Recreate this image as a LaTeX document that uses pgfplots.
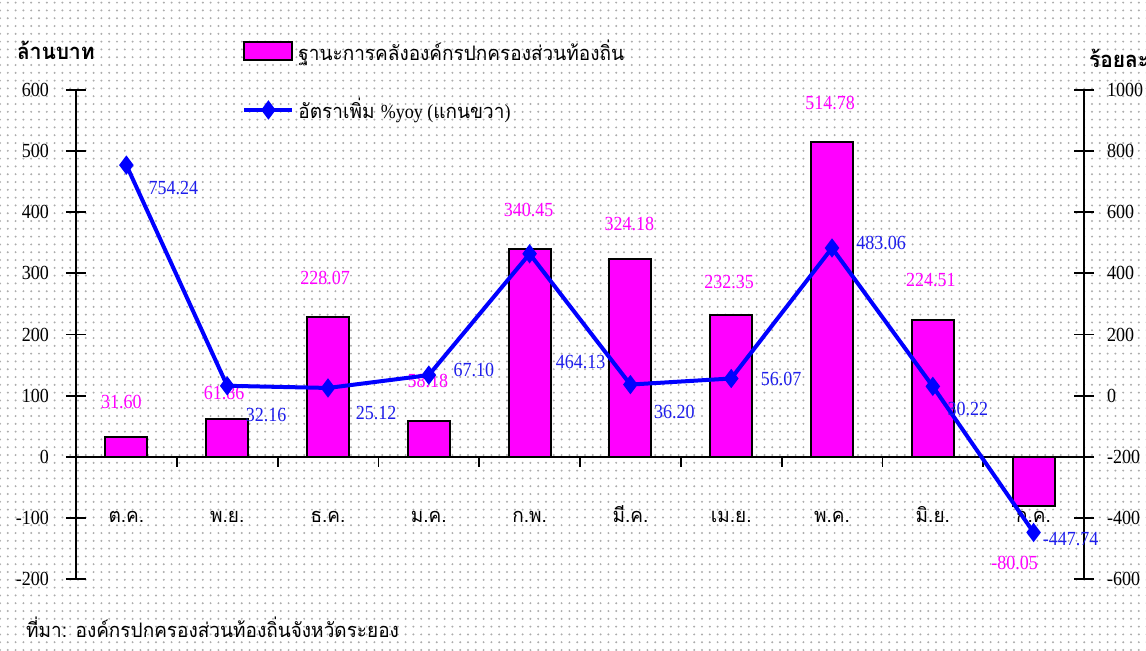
\documentclass[border=0pt]{standalone}
\usepackage{fontspec}
\usepackage{pgfplots}
\pgfplotsset{compat=1.18}
\usepackage{pgfplotstable}
\usetikzlibrary{patterns.meta}
\setmainfont{Liberation Serif}[FakeStretch=0.9]
\newfontfamily\thaifont[Script=Thai,FakeStretch=0.95]{Loma}
\definecolor{mag}{RGB}{255,0,255}
\definecolor{lblue}{RGB}{0,0,255}
\definecolor{tblue}{RGB}{30,30,235}

% x  bar  bdx bdy (pt)  line  ldx ldy (pt)
\pgfplotstableread{
x bar bdx bdy line ldx ldy
0 31.60 -2.5 17.5 754.24 23.5 -11.5
1 61.86 -1.5 13 32.16 19.5 -14.5
2 228.07 -1.5 19.5 25.12 24 -12.5
3 58.18 -0.5 20 67.10 22.5 2.5
4 340.45 -0.5 19.5 464.13 25.5 -54
5 324.18 -0.5 17.5 36.20 22 -13.5
6 232.35 -1 16.5 56.07 25 0
7 514.78 -1 19.5 483.06 24.5 2.5
8 224.51 -1 20 30.22 17.5 -11.5
9 -80.05 -9.5 -28.5 -447.74 18.5 -3.5
}\datatable

\begin{document}
\fontsize{10}{12}\selectfont
\begin{tikzpicture}[x=0.5pt,y=0.5pt]
\path[use as bounding box] (0,0) rectangle (1146,650);
\clip (0,0) rectangle (1146,650);
\fill[white] (0,0) rectangle (1146,650);
\fill[pattern={Dots[distance=3.9pt,radius=0.55pt]},pattern color=gray!65] (0,0) rectangle (1146,650);

\begin{axis}[
  at={(38pt,35.5pt)}, anchor=south west,
  scale only axis, width=504pt, height=244.5pt,
  xmin=-0.5, xmax=9.5, ymin=-200, ymax=600,
  axis y line*=left, axis x line*=middle,
  axis line style={black, line width=1pt},
  xtick={0,...,9},
  xticklabels={ต.ค.,พ.ย.,ธ.ค.,ม.ค.,ก.พ.,มี.ค.,เม.ย.,พ.ค.,มิ.ย.,ก.ค.},
  xticklabel style={font=\thaifont\fontsize{10}{12}\selectfont, anchor=base, yshift=-23pt},
  minor xtick={0.5,1.5,...,8.5},
  major x tick style={draw=none},
  xtick align=outside, minor tick length=5pt,
  ytick={-200,-100,...,600},
  ytick align=center, major tick length=10pt,
  tick style={black, line width=0.9pt},
  yticklabel style={font=\fontsize{10}{12}\selectfont, xshift=-5pt},
  /pgf/number format/assume math mode=true,
  /pgf/number format/set thousands separator={},
  clip=false,
]
\addplot[ybar, bar width=21pt, bar shift=0pt, fill=mag, draw=black, line width=1pt,
  point meta=explicit symbolic,
  nodes near coords,
  visualization depends on={\thisrow{bdx} \as \bdx},
  visualization depends on={\thisrow{bdy} \as \bdy},
  every node near coord/.append style={text=mag, anchor=center, xshift=\bdx*1pt, yshift=\bdy*1pt, font=\fontsize{10}{12}\selectfont},
] table[x=x, y=bar, meta=bar] {\datatable};
\end{axis}

\begin{axis}[
  at={(38pt,35.5pt)}, anchor=south west,
  scale only axis, width=504pt, height=244.5pt,
  xmin=-0.5, xmax=9.5, ymin=-600, ymax=1000,
  axis y line*=right, axis x line=none,
  axis line style={black, line width=1pt},
  ytick={-600,-400,...,1000},
  ytick align=center, major tick length=10pt,
  tick style={black, line width=0.9pt},
  yticklabel style={font=\fontsize{10}{12}\selectfont, xshift=3pt},
  /pgf/number format/assume math mode=true,
  /pgf/number format/set thousands separator={},
  clip=false,
  legend style={at={(0.1647,1.112)}, anchor=north west, draw=none, fill=none,
    inner sep=0pt, row sep=13.5pt, font=\thaifont\fontsize{10}{12}\selectfont,
    /tikz/every even column/.append style={column sep=4pt}},
  legend cell align=left,
]
\addlegendimage{legend image code/.code={\draw[fill=mag, draw=black, line width=1pt] (0pt,-4.5pt) rectangle (24pt,4.5pt);}}
\addlegendentry{ฐานะการคลังองค์กรปกครองส่วนท้องถิ่น}
\addplot[lblue, line width=2pt, mark=diamond*, mark size=3.2pt,
  point meta=explicit symbolic,
  nodes near coords,
  visualization depends on={\thisrow{ldx} \as \ldx},
  visualization depends on={\thisrow{ldy} \as \ldy},
  every node near coord/.append style={text=tblue, anchor=center, xshift=\ldx*1pt, yshift=\ldy*1pt, font=\fontsize{10}{12}\selectfont},
  legend image code/.code={\draw[lblue, line width=2pt, mark=diamond*, mark size=3.2pt, mark repeat=2, mark phase=2] plot coordinates {(0pt,0pt) (12pt,0pt) (24pt,0pt)};},
] table[x=x, y=line, meta=line] {\datatable};
\addlegendentry{อัตราเพิ่ม {\rmfamily\%yoy (}แกนขวา{\rmfamily)}}
\end{axis}

\node[anchor=west, font=\thaifont\bfseries\fontsize{11}{13}\selectfont] at (10,600) {ล้านบาท};
\node[anchor=west, font=\thaifont\bfseries\fontsize{11}{13}\selectfont] at (1082,592) {ร้อยละ};
\node[anchor=west, font=\thaifont\fontsize{10}{12}\selectfont] at (19,23) {ที่มา: องค์กรปกครองส่วนท้องถิ่นจังหวัดระยอง};
\end{tikzpicture}
\end{document}
